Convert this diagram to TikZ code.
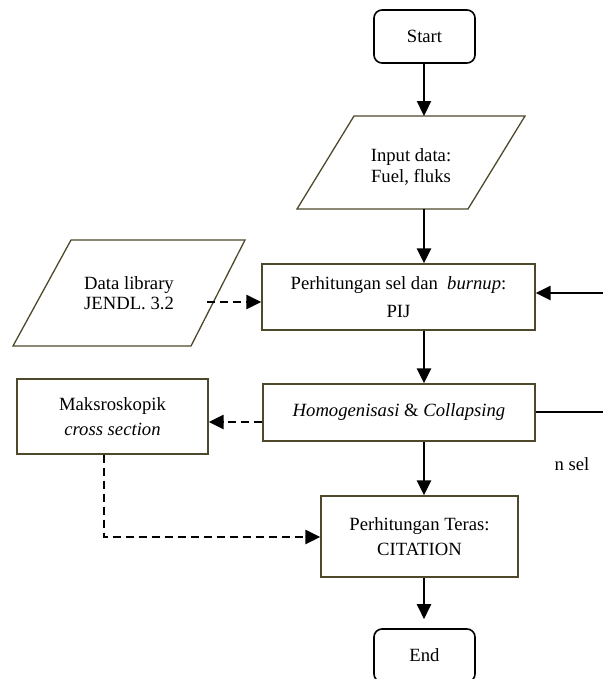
\documentclass[tikz,border=0pt]{standalone}
\usepackage{fontspec}
\setmainfont{Liberation Serif}
\usetikzlibrary{arrows.meta}
\newcommand\pxu{0.75pt}
\newcommand\fs{\fontsize{14pt}{15.5pt}\selectfont}
\definecolor{boxc}{RGB}{78,72,45}
\begin{document}
\begin{tikzpicture}[x=0.75pt,y=-0.75pt,
  box/.style={draw=boxc, line width=1.3*\pxu, inner sep=0pt, align=center, font=\fs},
  rbox/.style={draw=black, line width=1.6*\pxu, rounded corners=8*\pxu, inner sep=0pt, align=center, font=\fs},
  para/.style={draw=boxc, line width=1.3*\pxu},
  txt/.style={align=center, font=\fs, inner sep=0pt},
  arr/.style={line width=2.3*\pxu, -{Triangle[length=15*\pxu,width=14*\pxu]}},
  plain/.style={line width=2.3*\pxu},
  darr/.style={arr, dash pattern=on 8*\pxu off 5*\pxu}]
\useasboundingbox (0,0) rectangle (603,679);
% spine
\coordinate (ax) at (424,0);
% Start
\node[rbox, minimum width=101*\pxu, minimum height=53*\pxu] (start) at (424.5,36.5) {Start};
% Input parallelogram
\coordinate (in1) at (297,209);
\coordinate (in2) at (468,209);
\coordinate (in3) at (525,116);
\coordinate (in4) at (354,116);
\draw[para] (in1) -- (in2) -- (in3) -- (in4) -- cycle;
\node[txt] (input) at (411,167) {Input data:\\Fuel, fluks};
% Perhitungan sel
\node[box, minimum width=273*\pxu, minimum height=66*\pxu] (perh) at (398.5,297) {Perhitungan sel dan\ \ \textit{burnup}:\\[7*\pxu]PIJ};
% Data library parallelogram
\coordinate (dl1) at (13,346);
\coordinate (dl2) at (191,346);
\coordinate (dl3) at (245,240);
\coordinate (dl4) at (71,240);
\draw[para] (dl1) -- (dl2) -- (dl3) -- (dl4) -- cycle;
\node[txt] (dl) at (129,293) {Data library\\JENDL. 3.2};
\coordinate (dle) at (207,302);
% Homogenisasi
\node[box, minimum width=272*\pxu, minimum height=57*\pxu] (homog) at (399,412.5) {\textit{Homogenisasi} \& \textit{Collapsing}};
% Maksroskopik
\node[box, minimum width=191*\pxu, minimum height=75*\pxu] (maks) at (112.5,416.5) {Maksroskopik\\[5*\pxu]\textit{cross section}};
% Teras
\node[box, minimum width=197*\pxu, minimum height=81*\pxu] (teras) at (419.5,536.5) {Perhitungan Teras:\\[4*\pxu]CITATION};
% End
\node[rbox, minimum width=101*\pxu, minimum height=53*\pxu] (end) at (424.5,655.5) {End};
% n sel
\node[txt] (nsel) at (572,464) {n sel};
% right free ends
\coordinate (r1) at (603,293);
\coordinate (r2) at (603,412);
\coordinate (mb) at (104,537);
% main arrows
\draw[arr] (ax |- start.south) -- (ax |- in4);
\draw[arr] (ax |- in1) -- (ax |- perh.north);
\draw[arr] (ax |- perh.south) -- (ax |- homog.north);
\draw[arr] (ax |- homog.south) -- (ax |- teras.north);
\draw[arr, shorten >=9*\pxu] (ax |- teras.south) -- (ax |- end.north);
% right side
\draw[arr] (r1) -- (r1 -| perh.east);
\draw[plain] (homog.east |- r2) -- (r2);
% dashed
\draw[darr] (dle) -- (dle -| perh.west);
\draw[darr] (homog.west |- 0,422) -- (maks.east |- 0,422);
\draw[darr] (maks.south -| mb) -- (mb) -- (teras.west |- mb);
\end{tikzpicture}
\end{document}
